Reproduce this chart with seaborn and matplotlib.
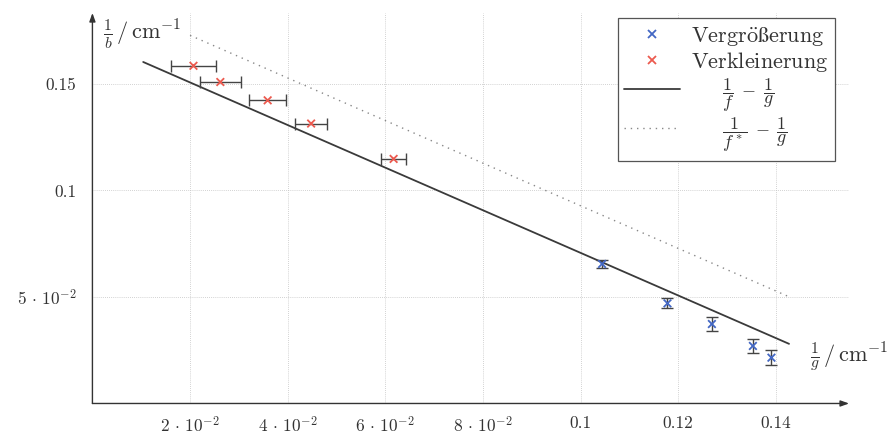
import numpy as np
import pandas as pd
import matplotlib
matplotlib.use("Agg")
import matplotlib.pyplot as plt
import seaborn as sns

# measured points: Verkleinerung (red) with x error bars
verkl_x = [0.0207, 0.0262, 0.0359, 0.0448, 0.0617]
verkl_y = [0.1585, 0.1509, 0.1423, 0.1314, 0.1148]
verkl_xerr = [0.0046, 0.0042, 0.0038, 0.0032, 0.0025]

# measured points: Vergrößerung (blue) with y error bars
vergr_x = [0.1044, 0.1178, 0.1269, 0.1353, 0.1391]
vergr_y = [0.0655, 0.0470, 0.0373, 0.0270, 0.0215]
vergr_yerr = [0.0017, 0.0023, 0.0031, 0.0033, 0.0034]

# model lines 1/b = 1/f - 1/g
inv_f = 0.1707
inv_f_star = 0.1928
line_x = [0.0104, 0.1427]
dotted_x = [0.0200, 0.1427]

x_ticks = [0.02, 0.04, 0.06, 0.08, 0.10, 0.12, 0.14]
x_ticklabels = [r"$2\,\cdot\,10^{-2}$", r"$4\,\cdot\,10^{-2}$", r"$6\,\cdot\,10^{-2}$",
                r"$8\,\cdot\,10^{-2}$", "0.1", "0.12", "0.14"]
y_ticks = [0.05, 0.10, 0.15]
y_ticklabels = [r"$5\,\cdot\,10^{-2}$", "0.1", "0.15"]

lbl_vergr = r"$\mathrm{Vergr\ddot{o}\ss erung}$"
lbl_verkl = r"$\mathrm{Verkleinerung}$"
lbl_f = r"$\qquad\dfrac{1}{f}\;-\;\dfrac{1}{g}$"
lbl_fstar = r"$\qquad\dfrac{1}{f^*}\;-\;\dfrac{1}{g}$"

sns.set_style("white")
plt.rcParams['font.family'] = ['cmr10', 'DejaVu Serif']
plt.rcParams['mathtext.fontset'] = 'cm'
plt.rcParams['axes.unicode_minus'] = False

text_col = '#333333'
blue = '#4468c4'
red = '#ec5a4f'

fig = plt.figure(figsize=(8.93, 4.37), dpi=100)
ax = fig.add_axes([0.1035, 0.0767, 0.8473, 0.8936])

lines = pd.DataFrame({
    'x': line_x + dotted_x,
    'y': [inv_f - v for v in line_x] + [inv_f_star - v for v in dotted_x],
    'kind': ['f'] * 2 + ['fstar'] * 2,
})

sns.lineplot(data=lines[lines.kind == 'f'], x='x', y='y', ax=ax,
             color='#3a3a3a', lw=1.3, label=lbl_f)
sns.lineplot(data=lines[lines.kind == 'fstar'], x='x', y='y', ax=ax,
             color='#888888', lw=1.0, linestyle=(0, (1, 3.5)), label=lbl_fstar)

ax.errorbar(verkl_x, verkl_y, xerr=verkl_xerr, fmt='none', ecolor='#444444',
            elinewidth=1.0, capsize=4, capthick=1.0, zorder=3)
ax.errorbar(vergr_x, vergr_y, yerr=vergr_yerr, fmt='none', ecolor='#444444',
            elinewidth=1.0, capsize=4, capthick=1.0, zorder=3)

pts = pd.DataFrame({
    'x': vergr_x + verkl_x,
    'y': vergr_y + verkl_y,
    'grp': [lbl_vergr] * len(vergr_x) + [lbl_verkl] * len(verkl_x),
})
sns.scatterplot(data=pts, x='x', y='y', hue='grp', ax=ax, marker='x',
                palette={lbl_vergr: blue, lbl_verkl: red},
                s=30, linewidth=1.3, zorder=4)

ax.set_xlim(0, 0.155)
ax.set_ylim(0, 0.1833)
ax.set_xticks(x_ticks)
ax.set_xticklabels(x_ticklabels)
ax.set_yticks(y_ticks)
ax.set_yticklabels(y_ticklabels)
ax.tick_params(labelsize=12.5, colors=text_col, length=3, direction='inout',
               width=0.6)
ax.tick_params(axis='x', pad=7)
ax.tick_params(axis='y', pad=10)
ax.grid(True, linestyle=(0, (1, 1.5)), color='#c4c4c4', lw=0.6)
for s in ax.spines.values():
    s.set_visible(False)
ax.set_xlabel('')
ax.set_ylabel('')

# axis arrows
arrow = dict(arrowstyle='-|>,head_length=0.5,head_width=0.18', color='#333333', lw=1.0,
             shrinkA=0, shrinkB=0)
ax.annotate('', xy=(1, 0), xytext=(0, 0), xycoords='axes fraction', arrowprops=arrow)
ax.annotate('', xy=(0, 1), xytext=(0, 0), xycoords='axes fraction', arrowprops=arrow)

ax.text(0.014, 0.945, r"$\frac{1}{b}\,/\,\mathrm{cm}^{-1}$", transform=ax.transAxes,
        fontsize=16, color=text_col, ha='left', va='center')
ax.text(0.948, 0.12, r"$\frac{1}{g}\,/\,\mathrm{cm}^{-1}$", transform=ax.transAxes,
        fontsize=16, color=text_col, ha='left', va='center')

handles, labels = ax.get_legend_handles_labels()
order = [labels.index(lbl_vergr), labels.index(lbl_verkl),
         labels.index(lbl_f), labels.index(lbl_fstar)]
leg = ax.legend([handles[i] for i in order], [labels[i] for i in order],
                loc='upper right', bbox_to_anchor=(835 / 893, 1 - 18 / 437),
                bbox_transform=fig.transFigure, borderaxespad=0,
                prop={'size': 16}, frameon=True,
                fancybox=False, framealpha=1, edgecolor='#555555',
                handlelength=2.5, handletextpad=0.5, borderpad=0.3,
                labelspacing=0.1)
leg.get_frame().set_linewidth(0.9)
for t in leg.get_texts():
    t.set_color(text_col)
    if 'dfrac' in t.get_text():
        t.set_fontsize(13)

fig.savefig('out.png', dpi=100)
